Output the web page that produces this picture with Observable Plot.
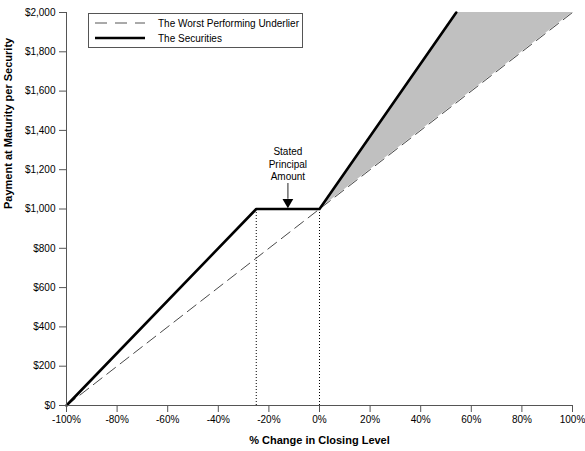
<!DOCTYPE html>
<html><head><meta charset="utf-8">
<script src="https://cdn.jsdelivr.net/npm/d3@7"></script>
<script src="https://cdn.jsdelivr.net/npm/@observablehq/plot@0.6"></script>
<style>
body{margin:0;background:#fff;font-family:"Liberation Sans",Arial,sans-serif;}
#wrap{position:relative;width:585px;height:451px;}
#legend{position:absolute;left:88px;top:13px;width:213px;height:33px;border:1px solid #555;background:#fff;font-size:10px;color:#000;}
#legend .row{position:absolute;left:6px;height:12px;display:flex;align-items:center;}
#legend svg{margin-right:13px;}
</style></head>
<body><div id="wrap"></div>
<script>
const xTicks = [-100,-80,-60,-40,-20,0,20,40,60,80,100];
const yTicks = [0,200,400,600,800,1000,1200,1400,1600,1800,2000];
const underX = [-100, 100];
const underY = [0, 2000];
const secX = [-100, -25, 0, 54.05];
const secY = [0, 1000, 1000, 2000];
const shadeX = [0, 54.05, 100];
const shadeLow = [1000, 1540.5, 2000];
const shadeHigh = [1000, 2000, 2000];
const dropX = [-25, 0];
const dropY = [1000, 1000];
const noteX = -12.5;
const noteTextY = 1318;
const arrowTop = 1130, arrowHeadBase = 1050, arrowTip = 1015;

const under = underX.map((x,i)=>({x, y: underY[i]}));
const sec = secX.map((x,i)=>({x, y: secY[i]}));
const shade = shadeX.map((x,i)=>({x, y1: shadeLow[i], y2: shadeHigh[i]}));
const drops = dropX.map((x,i)=>({x, y: dropY[i]}));

const chart = Plot.plot({
  width: 585, height: 451,
  marginLeft: 66, marginRight: 13, marginTop: 12, marginBottom: 46,
  style: {fontFamily: '"Liberation Sans", Arial, sans-serif', fontSize: "10px", color: "#000", background: "#fff"},
  x: {domain: [-100, 100], ticks: xTicks, tickFormat: d => d + "%", label: null},
  y: {domain: [0, 2000], ticks: yTicks, tickFormat: d => "$" + d3.format(",")(d), label: null},
  marks: [
    Plot.areaY(shade, {x: "x", y1: "y1", y2: "y2", fill: "#c0c0c0"}),
    Plot.ruleX(drops, {x: "x", y1: 0, y2: "y", stroke: "#000", strokeWidth: 1, strokeDasharray: "1,2"}),
    Plot.line(under, {x: "x", y: "y", stroke: "#333", strokeWidth: 0.9, strokeDasharray: "11,6"}),
    Plot.line(sec, {x: "x", y: "y", stroke: "#000", strokeWidth: 2.6}),
    Plot.ruleX([noteX], {x: d => d, y1: arrowTop, y2: arrowHeadBase, stroke: "#777", strokeWidth: 1.6}),
    Plot.dot([noteX], {x: d => d, y: (arrowHeadBase + arrowTip)/2 + 3, symbol: "triangle", rotate: 180, r: 4, fill: "#000", stroke: "none"}),
    Plot.text([noteX], {x: d => d, y: noteTextY, text: () => "Stated\nPrincipal\nAmount", lineAnchor: "top", lineHeight: 1.25, fontSize: 10, fill: "#000"}),
    Plot.axisY({ticks: yTicks, tickFormat: d => "$" + d3.format(",")(d), tickSize: 7, tickPadding: 4, stroke: "#555", fill: "#000", label: null}),
    Plot.axisX({ticks: xTicks, tickFormat: d => d + "%", tickSize: 7, tickPadding: 3, stroke: "#555", fill: "#000", label: null}),
    Plot.ruleX([-100], {y1: 0, y2: 2000, stroke: "#555"}),
    Plot.ruleY([0], {x1: -100, x2: 100, stroke: "#555"}),
    Plot.text(["% Change in Closing Level"], {frameAnchor: "bottom", dy: 38, text: d => d, fontWeight: "bold", fontSize: 11, fill: "#000"}),
    Plot.text(["Payment at Maturity per Security"], {frameAnchor: "left", dx: -58, rotate: -90, text: d => d, fontWeight: "bold", fontSize: 11, fill: "#000"})
  ]
});
const wrap = document.getElementById("wrap");
wrap.appendChild(chart);
const legend = document.createElement("div");
legend.id = "legend";
legend.innerHTML = `
<div class="row" style="top:3px"><svg width="50" height="6"><line x1="0" y1="3" x2="50" y2="3" stroke="#555" stroke-width="1" stroke-dasharray="12,8"/></svg><span>The Worst Performing Underlier</span></div>
<div class="row" style="top:18px"><svg width="50" height="6"><line x1="0" y1="3" x2="50" y2="3" stroke="#000" stroke-width="2.6"/></svg><span>The Securities</span></div>`;
wrap.appendChild(legend);
</script></body></html>
